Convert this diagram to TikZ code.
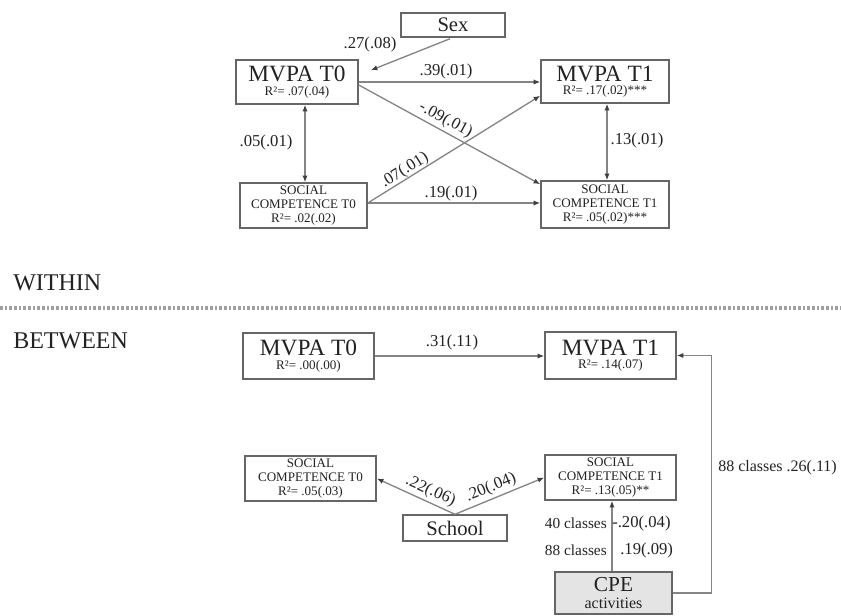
\documentclass[tikz,border=0pt]{standalone}
\usepackage{fontspec}
\setmainfont{Liberation Serif}
\usetikzlibrary{arrows.meta,calc}
\definecolor{boxc}{HTML}{666666}
\definecolor{linec}{HTML}{858585}
\definecolor{txt}{HTML}{222222}
\definecolor{dotc}{HTML}{A0A0A0}
\definecolor{cpefill}{HTML}{E4E4E4}
\begin{document}
\begin{tikzpicture}[x=0.75pt,y=-0.75pt,
  box/.style={draw=boxc, line width=1.1pt, fill=white, inner sep=0pt, align=center, text=txt},
  mv/.style={box, font=\fontsize{9.8}{10}\selectfont},
  soc/.style={box, font=\fontsize{9.8}{10.2}\selectfont},
  big/.style={font=\fontsize{15.5}{15.5}\selectfont},
  arr/.style={draw=linec, line width=1pt, -{Latex[length=5pt,width=4pt,color=black!75]}},
  barr/.style={draw=linec, line width=1pt, {Latex[length=5pt,width=4pt,color=black!75]}-{Latex[length=5pt,width=4pt,color=black!75]}},
  lab/.style={text=txt, font=\fontsize{12.5}{14}\selectfont, inner sep=2pt},
  clab/.style={text=txt, font=\fontsize{11.5}{13}\selectfont, inner sep=0pt},
  head/.style={text=txt, font=\fontsize{18}{18}\selectfont, inner sep=0pt}
]
\useasboundingbox (0,0) rectangle (841,615);

% ---------- WITHIN ----------
\node[box, font=\fontsize{15.5}{15.5}\selectfont, minimum width=78pt, minimum height=18pt] (sex) at (453,25) {Sex};
\node[mv, minimum width=91.5pt, minimum height=33pt] (m0) at (297,82) {{\fontsize{17.5}{17.5}\selectfont MVPA T0}\\R²= .07(.04)};
\node[mv, minimum width=96pt, minimum height=32.25pt] (m1) at (605,81.5) {{\fontsize{17.5}{17.5}\selectfont MVPA T1}\\R²= .17(.02)***};
\node[soc, minimum width=95.25pt, minimum height=33.75pt] (s0) at (303.5,205.5) {SOCIAL\\COMPETENCE T0\\R²= .02(.02)};
\node[soc, minimum width=96pt, minimum height=35.25pt] (s1) at (605,204.5) {SOCIAL\\COMPETENCE T1\\R²= .05(.02)***};

\draw[arr] ($(sex.south)+(-3,1)$) -- ($(m0.north east)+(12,11)$);
\node[lab] (l27) at (370,44) {.27(.08)};

\draw[arr] (m0.east) -- (m0.east -| m1.west);
\node[lab] (l39) at (446,71) {.39(.01)};

\draw[arr] ($(m0.east)+(0,3)$) -- ($(s1.north west)+(0,4)$)
  node[lab, sloped, above, pos=0.45] (l09) {-.09(.01)};

\coordinate (s0o) at ($(s0.east)+(0,-2.5)$);
\draw[arr] (s0o) -- ($(m1.south west)+(0,-8)$)
  node[lab, sloped, above, pos=0.24, inner sep=0pt] (l07) {.07(.01)};
\draw[arr] (s0o) -- (s0o -| s1.west);
\node[lab] (l19) at (451,193) {.19(.01)};

\coordinate (m0b) at ($(m0.south)+(8,0)$);
\draw[barr] (m0b) -- (m0b |- s0.north);
\node[lab] (l05) at (266,142) {.05(.01)};

\coordinate (m1b) at ($(m1.south)+(2,0)$);
\draw[barr] (m1b) -- (m1b |- s1.north);
\node[lab] (l13) at (637,140) {.13(.01)};

% ---------- separator ----------
\node[head, anchor=base west] (within) at (13,290) {WITHIN};
\draw[dotc, line width=2.3pt, dash pattern=on 2pt off 1.5pt] (0,308) -- (841,308);
\node[head, anchor=base west] (between) at (13,348) {BETWEEN};

% ---------- BETWEEN ----------
\node[mv, minimum width=98.25pt, minimum height=34.5pt] (bm0) at (308.5,356) {{\fontsize{17.5}{17.5}\selectfont MVPA T0}\\R²= .00(.00)};
\node[mv, minimum width=98.25pt, minimum height=35.25pt] (bm1) at (610.5,355.5) {{\fontsize{17.5}{17.5}\selectfont MVPA T1}\\R²= .14(.07)};
\node[soc, minimum width=98.25pt, minimum height=33.75pt] (bs0) at (310.5,478.5) {SOCIAL\\COMPETENCE T0\\R²= .05(.03)};
\node[soc, minimum width=98.25pt, minimum height=33.75pt] (bs1) at (610.5,477.5) {SOCIAL\\COMPETENCE T1\\R²= .13(.05)**};
\node[box, big, minimum width=78pt, minimum height=19.5pt] (school) at (455,528) {School};
\node[box, fill=cpefill, font=\fontsize{12}{12.75}\selectfont, minimum width=87.75pt, minimum height=31.5pt] (cpe) at (613.5,593) {{\fontsize{16}{16}\selectfont CPE}\\activities};

\draw[arr] (bm0.east) -- (bm0.east -| bm1.west);
\node[lab] (l31) at (452,342) {.31(.11)};

\draw[arr] (school.north) -- (bs0.east) node[lab, sloped, above, pos=0.37] (l22) {.22(.06)};
\draw[arr] (school.north) -- (bs1.west) node[lab, sloped, above, pos=0.45] (l20) {.20(.04)};

\coordinate (cpet) at ($(cpe.north)+(-1.5,0)$);
\draw[arr] (cpet) -- (cpet |- bs1.south);
\node[clab, anchor=east] (c40) at (607,523) {40 classes};
\node[lab, inner sep=0pt, anchor=west] (v20) at (612,523) {-.20(.04)};
\node[clab, anchor=east] (c88) at (607,550) {88 classes};
\node[lab, inner sep=0pt, anchor=west] (v19) at (620,550) {.19(.09)};

\draw[arr] (cpe.east) -- ++(39,0) |- (bm1.east);
\node[clab, font=\fontsize{12}{13}\selectfont, anchor=west] (l26) at (718,468) {88 classes .26(.11)};
\end{tikzpicture}
\end{document}
